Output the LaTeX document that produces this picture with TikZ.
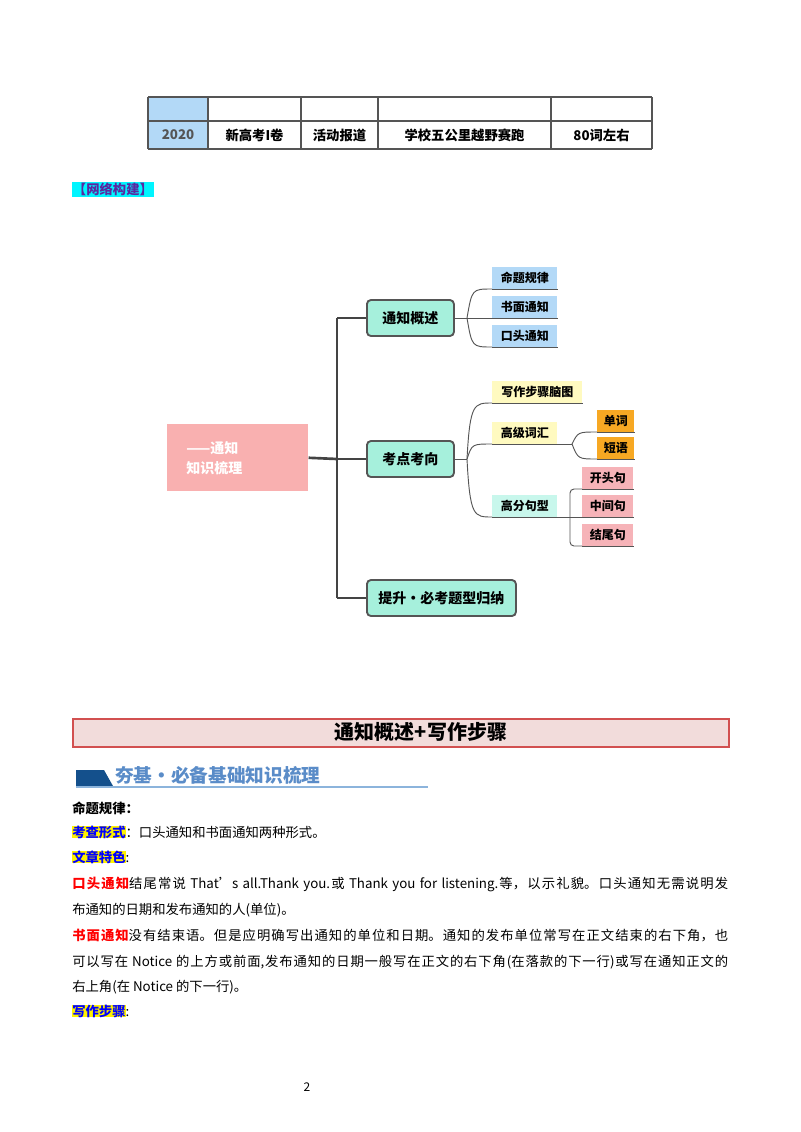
\documentclass[tikz,border=0pt]{standalone}
\usepackage{fontspec}
\setmainfont{Noto Sans CJK SC}
\XeTeXlinebreaklocale "zh"
\XeTeXlinebreakskip=0pt plus 1pt
\newcommand\jline[1]{#1\parfillskip=0pt\par}
\definecolor{mint}{HTML}{A6F0DC}
\definecolor{lblue}{HTML}{B3D9F7}
\definecolor{lyel}{HTML}{FFFAC0}
\definecolor{orng}{HTML}{F7A823}
\definecolor{lpink}{HTML}{F6B3B8}
\definecolor{lteal}{HTML}{C8F7EC}
\definecolor{rootc}{HTML}{F9B0B0}
\definecolor{ln}{HTML}{555555}
\definecolor{purp}{HTML}{5A28A0}
\definecolor{cyn}{HTML}{00F5FF}
\definecolor{hdred}{HTML}{D25050}
\definecolor{hdfill}{HTML}{F2DCDB}
\definecolor{dblue}{HTML}{14508C}
\definecolor{sblue}{HTML}{8CB4DC}
\definecolor{tblue}{HTML}{5A8CC8}
\begin{document}
\begin{tikzpicture}[x=0.75pt,y=-0.75pt,
 mid/.style={draw=ln,line width=1.4pt,rounded corners=3pt,fill=mint,anchor=west,minimum height=27pt,inner sep=0pt,font=\fontsize{10.5}{12}\selectfont\bfseries},
 leaf/.style={anchor=south west,inner sep=0pt,minimum height=16.5pt,font=\fontsize{9}{11}\selectfont\bfseries,append after command={(\tikzlastnode.south west) edge[ln,line width=0.7pt] (\tikzlastnode.south east)}},
 br/.style={ln,line width=0.7pt},
 tr/.style={draw=ln!80!black,line width=2pt},
 txt/.style={anchor=west,inner sep=0pt,text width=492pt,align=justify,font=\fontsize{10}{12}\selectfont},
 tcell/.style={font=\fontsize{10}{12}\selectfont\bfseries}]
\useasboundingbox (0,0) rectangle (800,1132);
% table
\fill[lblue] (148,97) rectangle (208,149);
\foreach \x in {148,208,301,378,551,652} \draw[ln,line width=0.8pt] (\x,97) -- (\x,149);
\foreach \y in {97,121,149} \draw[ln,line width=0.8pt] (148,\y) -- (652,\y);
\node[tcell,text=ln] (t1) at (178,135) {2020};
\node[tcell] (t2) at (254.5,135) {新高考I卷};
\node[tcell] (t3) at (339.5,135) {活动报道};
\node[tcell] (t4) at (464.5,135) {学校五公里越野赛跑};
\node[tcell] (t5) at (601.5,135) {80词左右};
\node[fill=cyn,text=purp,inner sep=0.5pt,anchor=west,font=\fontsize{10}{12}\selectfont\bfseries] (lab) at (72,189.5) {【网络构建】};
% mind map
\node[fill=rootc,minimum width=105.75pt,minimum height=50.25pt,anchor=north west,inner sep=0pt] (root) at (167,424) {};
\node[text=white,anchor=north west,inner sep=0pt,align=left,font=\fontsize{10.5}{15}\selectfont\bfseries] (rt) at (186,441) {——通知\\知识梳理};
\node[mid,minimum width=65.25pt] (m1) at (366,318) {通知概述};
\node[mid,minimum width=65.25pt] (m2) at (366,459) {考点考向};
\node[mid,minimum width=111.75pt] (m3) at (366,598) {提升·必考题型归纳};
\coordinate (j0) at (337,459);
\coordinate (jt) at (337,318);
\coordinate (jb) at (337,598);
\draw[tr] (root.east) -- (j0);
\draw[tr] (jt) -- (jb);
\draw[tr] (jt) -- (m1.west);
\draw[tr] (j0) -- (m2.west);
\draw[tr] (jb) -- (m3.west);
\node[leaf,fill=lblue,minimum width=48.75pt] (a1) at (492,289) {命题规律};
\node[leaf,fill=lblue,minimum width=48.75pt] (a2) at (492,318) {书面通知};
\node[leaf,fill=lblue,minimum width=48.75pt] (a3) at (492,347) {口头通知};
\node[leaf,fill=lyel,minimum width=67.5pt] (b1) at (492,403) {写作步骤脑图};
\node[leaf,fill=lyel,minimum width=48.75pt] (b2) at (492,444) {高级词汇};
\node[leaf,fill=lteal,minimum width=48.75pt] (b3) at (492,517) {高分句型};
\node[leaf,fill=orng,minimum width=27.75pt] (c1) at (597,432) {单词};
\node[leaf,fill=orng,minimum width=27.75pt] (c2) at (597,459) {短语};
\node[leaf,fill=lpink,minimum width=38.25pt] (d1) at (582,489) {开头句};
\node[leaf,fill=lpink,minimum width=38.25pt] (d2) at (582,517) {中间句};
\node[leaf,fill=lpink,minimum width=38.25pt] (d3) at (582,546) {结尾句};
\coordinate (ka) at (467,318);
\coordinate (kb) at (467,459);
\coordinate (kc) at (572,444);
\coordinate (kd) at (570,517);
\draw[br] (m1.east) -- (ka);
\draw[br] (ka) .. controls (472,289) .. (a1.south west);
\draw[br] (ka) -- (a2.south west);
\draw[br] (ka) .. controls (472,347) .. (a3.south west);
\draw[br] (m2.east) -- (kb);
\draw[br] (kb) .. controls (470,403) and (474,403) .. (b1.south west);
\draw[br] (kb) .. controls (472,444) .. (b2.south west);
\draw[br] (kb) .. controls (470,517) and (474,517) .. (b3.south west);
\draw[br] (b2.south east) -- (kc);
\draw[br] (kc) .. controls (578,432) .. (c1.south west);
\draw[br] (kc) .. controls (578,459) .. (c2.south west);
\draw[br] (b3.south east) -- (kd);
\draw[br,rounded corners=3pt] (d1.south west) -- (570,489) -- (570,546) -- (d3.south west);
\draw[br] (kd) -- (d2.south west);
% section header
\node[draw=hdred,line width=1.2pt,fill=hdfill,minimum width=492pt,minimum height=21pt,anchor=north west,inner sep=0pt] (hd) at (72,718) {};
\node[font=\fontsize{15}{18}\selectfont\bfseries] (hdt) at (421,732) {通知概述+写作步骤};
\fill[dblue] (76,770) -- (104,770) -- (113,786) -- (76,786) -- cycle;
\draw[sblue,line width=0.8pt] (76,787) -- (428,787);
\node[anchor=west,inner sep=0pt,text=tblue,font=\fontsize{14}{16}\selectfont\bfseries] (sub) at (115,775) {夯基·必备基础知识梳理};
% text
\node[anchor=west,inner sep=0pt,font=\fontsize{10}{12}\selectfont\bfseries] (p0) at (72,808) {命题规律：};
\node[anchor=west,inner sep=0pt,font=\fontsize{10}{12}\selectfont] (p1) at (72,832) {\setlength\fboxsep{0pt}\colorbox{yellow}{\bfseries\color{blue}考查形式}：口头通知和书面通知两种形式。};
\node[anchor=west,inner sep=0pt,font=\fontsize{10}{12}\selectfont] (p2) at (72,857) {\setlength\fboxsep{0pt}\colorbox{yellow}{\bfseries\color{blue}文章特色}:};
\node[txt] (p3) at (72,884) {\jline{{\bfseries\color{red}口头通知}结尾常说 That’s all.Thank you.或 Thank you for listening.等，以示礼貌。口头通知无需说明发}};
\node[txt] (p4) at (72,910) {布通知的日期和发布通知的人(单位)。};
\node[txt] (p5) at (72,936) {\jline{{\bfseries\color{red}书面通知}没有结束语。但是应明确写出通知的单位和日期。通知的发布单位常写在正文结束的右下角，也}};
\node[txt] (p6) at (72,962) {\jline{可以写在 Notice 的上方或前面,发布通知的日期一般写在正文的右下角(在落款的下一行)或写在通知正文的}};
\node[txt] (p7) at (72,987) {右上角(在 Notice 的下一行)。};
\node[anchor=west,inner sep=0pt,font=\fontsize{10}{12}\selectfont] (p8) at (72,1011) {\setlength\fboxsep{0pt}\colorbox{yellow}{\bfseries\color{blue}写作步骤}:};
\node[font=\fontsize{9}{11}\selectfont] (pg) at (307,1087) {2};
\end{tikzpicture}
\end{document}
